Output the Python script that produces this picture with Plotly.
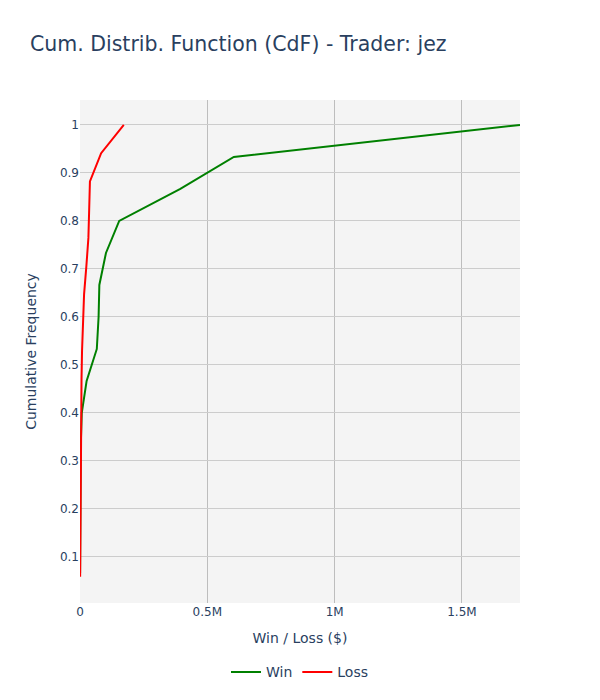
import plotly.graph_objects as go

# Win series: cumulative frequency (k/15) vs win amount ($)
win_x = [300, 600, 1000, 1500, 3000, 7000, 26000, 66000, 73000, 76000, 102000, 154000, 394000, 604000, 1728000]
win_y = [k / 15 for k in range(1, 16)]

# Loss series: cumulative frequency (k/17) vs loss amount ($)
loss_x = [500, 1000, 1500, 2000, 3000, 4000, 5000, 6000, 8000, 11000, 16000, 25000, 33000, 36000, 39000, 83000, 172000]
loss_y = [k / 17 for k in range(1, 18)]

y_ticks = [0.1, 0.2, 0.3, 0.4, 0.5, 0.6, 0.7, 0.8, 0.9, 1]
x_ticks = [0, 500000, 1000000, 1500000]
x_labels = ["0", "0.5M", "1M", "1.5M"]

FONT = "Verdana, DejaVu Sans, sans-serif"

fig = go.Figure()
fig.add_trace(go.Scatter(x=win_x, y=win_y, mode="lines", name="Win",
                         line=dict(color="green", width=2)))
fig.add_trace(go.Scatter(x=loss_x, y=loss_y, mode="lines", name="Loss",
                         line=dict(color="red", width=2)))

fig.update_layout(
    width=592, height=692,
    template="plotly_white",
    font=dict(family=FONT, color="#2a3f5f", size=12),
    title=dict(text="Cum. Distrib. Function (CdF) - Trader: jez",
               x=0.037, y=0.959, font=dict(size=20.5, family=FONT)),
    paper_bgcolor="white",
    plot_bgcolor="#f4f4f4",
    margin=dict(l=72, r=80, t=92, b=97, autoexpand=False),
    legend=dict(orientation="h", x=0.5, xanchor="center",
                yref="container", y=0.04, yanchor="middle",
                font=dict(size=14)),
    xaxis=dict(title=dict(text="Win / Loss ($)", font=dict(size=14)),
               range=[0, 1728000], gridcolor="#bdbdbd", zeroline=False,
               showline=False, tickvals=x_ticks, ticktext=x_labels),
    yaxis=dict(title=dict(text="Cumulative Frequency", font=dict(size=14), standoff=20),
               range=[0.004, 1.052], gridcolor="#cccccc", zeroline=False,
               showline=False, tickvals=y_ticks),
)

fig.write_html("out.html")
